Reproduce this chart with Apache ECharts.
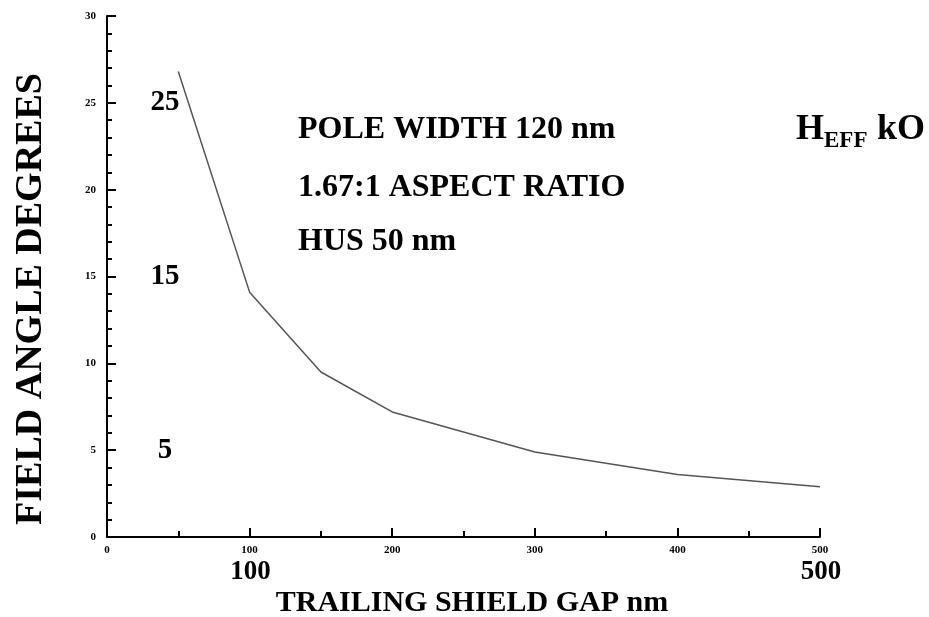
<!DOCTYPE html>
<html><head><meta charset="utf-8">
<script src="https://cdn.jsdelivr.net/npm/echarts@6/dist/echarts.min.js"></script>
<style>html,body{margin:0;padding:0;background:#fff}#c{width:929px;height:617px}</style>
</head><body><div id="c"></div>
<script>
const gapNm = [50, 100, 150, 200, 300, 400, 500];
const fieldAngle = [26.8, 14.1, 9.5, 7.2, 4.9, 3.6, 2.9];
const bigYLabels = [25, 15, 5];
const bigXLabels = [100, 500];
const infoLines = ['POLE WIDTH 120 nm', '1.67:1 ASPECT RATIO', 'HUS 50 nm'];
const yTitle = 'FIELD ANGLE DEGREES';
const xTitle = 'TRAILING SHIELD GAP nm';

const chart = echarts.init(document.getElementById('c'), null, {renderer: 'canvas'});
const serif = '"Liberation Serif", "DejaVu Serif", serif';
const option = {
  animation: false,
  backgroundColor: '#fff',
  grid: {left: 107, right: 109, top: 16, bottom: 80, containLabel: false},
  xAxis: {
    type: 'value', min: 0, max: 500, interval: 100,
    axisLine: {show: true, lineStyle: {color: '#000', width: 2}},
    axisTick: {show: true, inside: true, length: 9, lineStyle: {color: '#000', width: 2}},
    minorTick: {show: true, splitNumber: 2, length: 6, lineStyle: {color: '#000', width: 2}},
    splitLine: {show: false},
    axisLabel: {color: '#000', fontSize: 11, fontWeight: 'bold', fontFamily: serif, margin: 8}
  },
  yAxis: {
    type: 'value', min: 0, max: 30, interval: 5,
    axisLine: {show: true, lineStyle: {color: '#000', width: 2}},
    axisTick: {show: true, inside: true, length: 9, lineStyle: {color: '#000', width: 2}},
    minorTick: {show: true, splitNumber: 5, length: 5, lineStyle: {color: '#000', width: 2}},
    splitLine: {show: false},
    axisLabel: {color: '#000', fontSize: 11, fontWeight: 'bold', fontFamily: serif, margin: 11}
  },
  series: [{
    type: 'line',
    data: gapNm.map((x, i) => [x, fieldAngle[i]]),
    showSymbol: false,
    lineStyle: {color: '#555', width: 1.5}
  }]
};
chart.setOption(option);

const g = [];
g.push({type: 'text', x: 31, y: 299, rotation: Math.PI / 2, style: {text: yTitle, fill: '#000', font: 'bold 38px ' + serif, textAlign: 'center', textVerticalAlign: 'middle'}});
g.push({type: 'text', x: 472, y: 603, style: {text: xTitle, fill: '#000', font: 'bold 30px ' + serif, textAlign: 'center', textVerticalAlign: 'middle'}});
bigYLabels.forEach(v => {
  const p = chart.convertToPixel({gridIndex: 0}, [0, v]);
  g.push({type: 'text', x: p[0] + 58, y: p[1], style: {text: String(v), fill: '#000', font: 'bold 29px ' + serif, textAlign: 'center', textVerticalAlign: 'middle'}});
});
bigXLabels.forEach(v => {
  const p = chart.convertToPixel({gridIndex: 0}, [v, 0]);
  g.push({type: 'text', x: p[0] + 1, y: p[1] + 35, style: {text: String(v), fill: '#000', font: 'bold 27px ' + serif, textAlign: 'center', textVerticalAlign: 'middle'}});
});
const infoY = [130, 188, 242];
infoLines.forEach((t, i) => {
  g.push({type: 'text', x: 298, y: infoY[i], style: {text: t, fill: '#000', font: 'bold 32px ' + serif, textAlign: 'left', textVerticalAlign: 'middle'}});
});
g.push({type: 'text', x: 796, y: 130, style: {text: 'H', fill: '#000', font: 'bold 36px ' + serif, textAlign: 'left', textVerticalAlign: 'middle'}});
g.push({type: 'text', x: 824, y: 141, style: {text: 'EFF', fill: '#000', font: 'bold 23px ' + serif, textAlign: 'left', textVerticalAlign: 'middle'}});
g.push({type: 'text', x: 877, y: 130, style: {text: 'kO', fill: '#000', font: 'bold 36px ' + serif, textAlign: 'left', textVerticalAlign: 'middle'}});
chart.setOption({graphic: g});
</script></body></html>
